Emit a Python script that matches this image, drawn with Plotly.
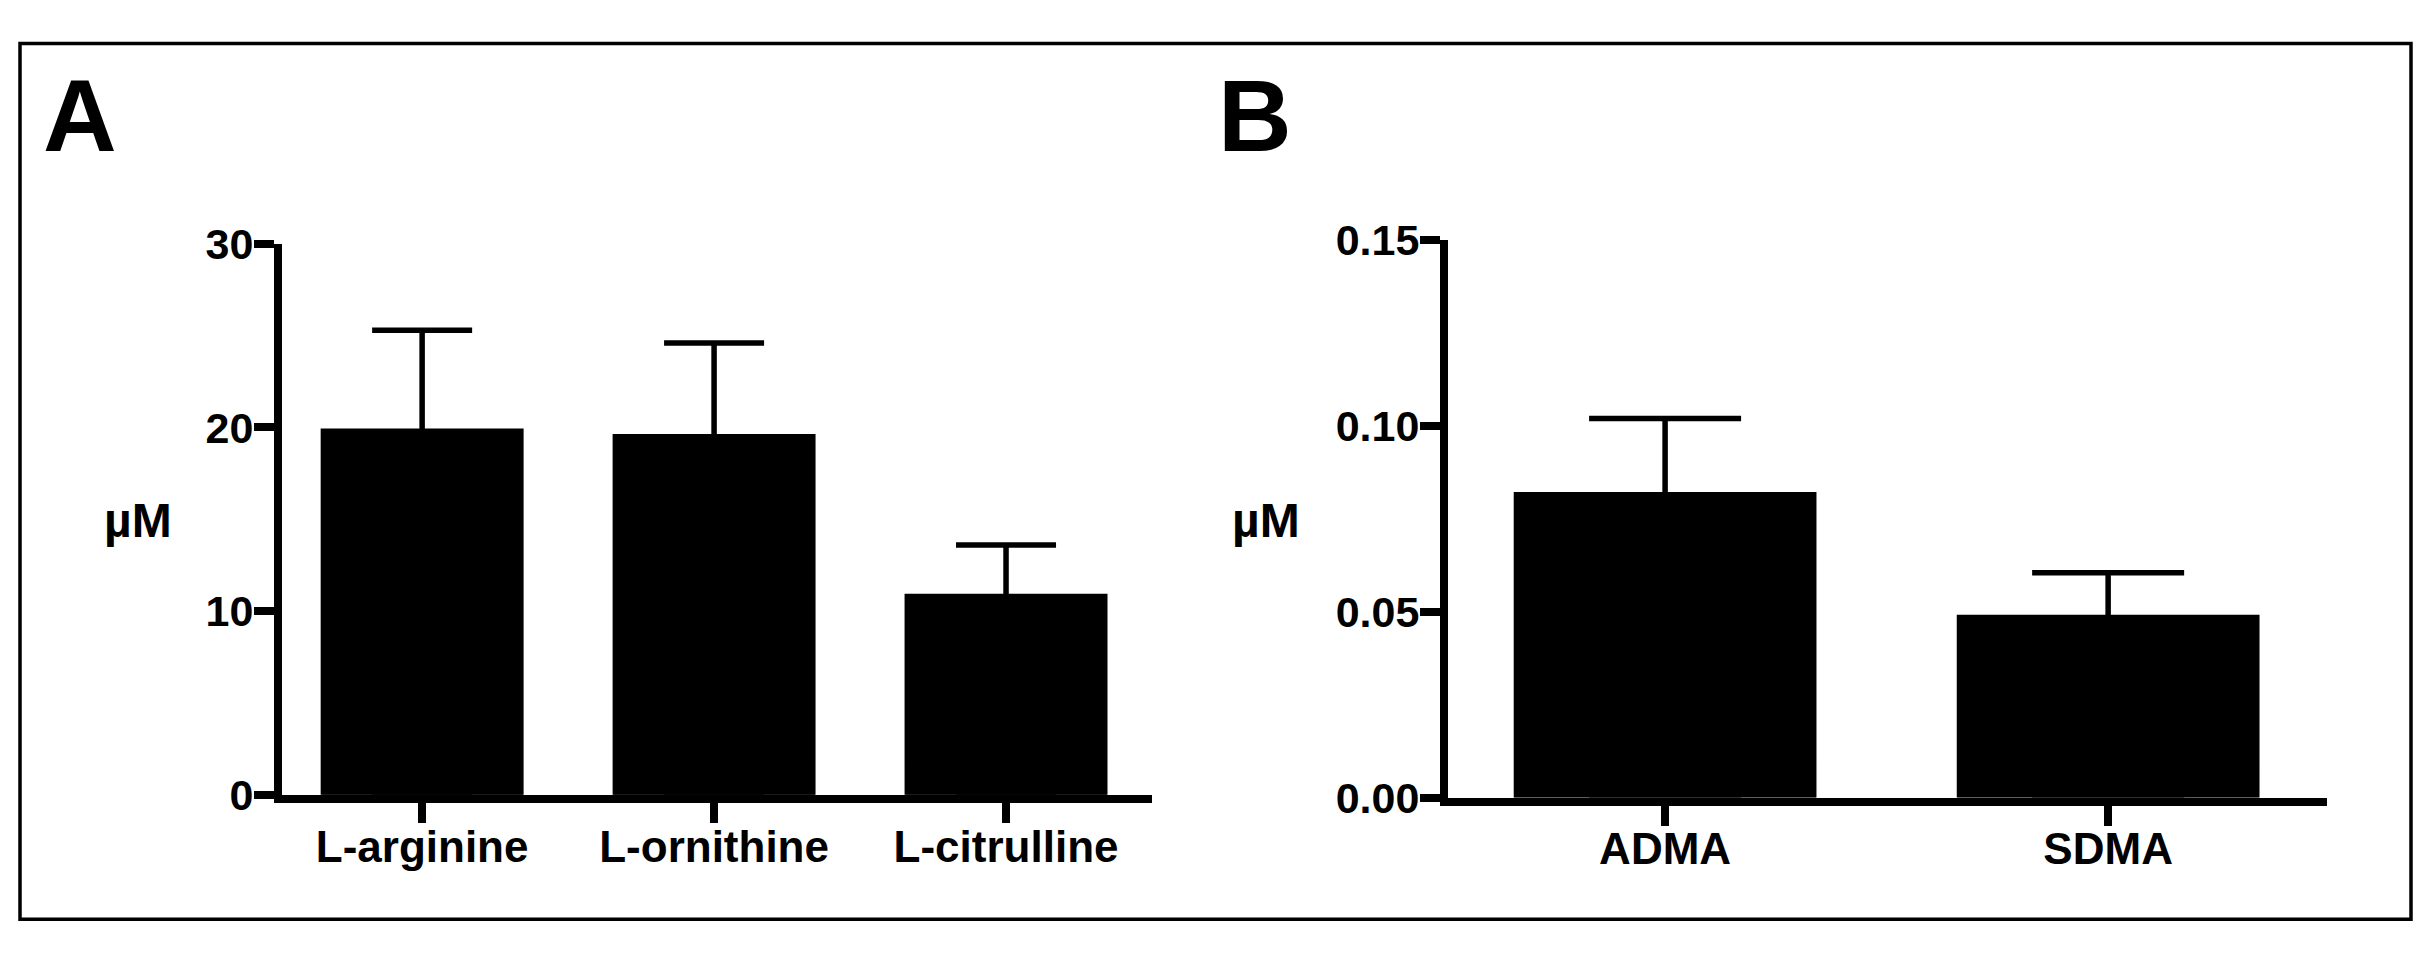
import plotly.graph_objects as go

# panel A - amino acids
amino_names = ["L-arginine", "L-ornithine", "L-citrulline"]
amino_mean = [19.9, 19.6, 10.9]
amino_err = [5.4, 5.0, 2.7]
amino_ticks = [0, 10, 20, 30]

# panel B - methylarginines
methyl_names = ["ADMA", "SDMA"]
methyl_mean = [0.082, 0.049]
methyl_err = [0.020, 0.0115]
methyl_ticks = [0, 0.05, 0.10, 0.15]

# the page body keeps its default 8px margin, so the figure is drawn
# 8px smaller and every position below is given in window pixels
OFF = 8
W, H = 2433 - OFF, 965 - OFF
FONT = "Liberation Sans, Arial, Helvetica, sans-serif"


def px_x(p):
    return (p - OFF) / W


def px_y(p):
    return 1 - (p - OFF) / H


fig = go.Figure()

# lower half of the error bar runs down inside the black bar, so only
# the upper whisker shows (lower cap sits hidden at the baseline)
fig.add_trace(go.Bar(
    x=amino_names, y=amino_mean, width=0.69,
    marker=dict(color="black", line=dict(width=1.5, color="black")),
    error_y=dict(type="data", symmetric=False, array=amino_err,
                 arrayminus=amino_mean,
                 color="black", thickness=5.5, width=50),
    xaxis="x", yaxis="y",
))

fig.add_trace(go.Bar(
    x=methyl_names, y=methyl_mean, width=0.68,
    marker=dict(color="black", line=dict(width=1.5, color="black")),
    error_y=dict(type="data", symmetric=False, array=methyl_err,
                 arrayminus=methyl_mean,
                 color="black", thickness=5.5, width=76),
    xaxis="x2", yaxis="y2",
))

axis_style = dict(
    showline=True, linewidth=8, linecolor="black",
    ticks="outside", ticklen=20, tickwidth=8, tickcolor="black",
    showgrid=False, zeroline=False, fixedrange=True,
)

fig.update_layout(
    width=W, height=H,
    margin=dict(l=0, r=0, t=0, b=0),
    paper_bgcolor="white", plot_bgcolor="white",
    showlegend=False,
    font=dict(family=FONT, color="black", weight="bold"),
    xaxis=dict(axis_style, type="category", range=[-0.48, 2.5],
               domain=[px_x(282), px_x(1152)], anchor="y",
               ticklabelstandoff=-14,
               tickfont=dict(size=44, family=FONT, weight="bold")),
    yaxis=dict(axis_style, range=[0, 30], tickvals=amino_ticks,
               domain=[px_y(811), px_y(231)], anchor="x",
               ticklabelstandoff=-8,
               tickfont=dict(size=43, family=FONT, weight="bold")),
    xaxis2=dict(axis_style, type="category", range=[-0.49, 1.494],
                domain=[px_x(1448), px_x(2327)], anchor="y2",
                ticklabelstandoff=-14,
                tickfont=dict(size=44, family=FONT, weight="bold")),
    yaxis2=dict(axis_style, range=[0, 0.15], tickvals=methyl_ticks,
                tickformat=".2f",
                domain=[px_y(814), px_y(227)], anchor="x2",
                ticklabelstandoff=-8,
                tickfont=dict(size=43, family=FONT, weight="bold")),
)

# outer frame
fig.add_shape(type="rect", xref="paper", yref="paper",
              x0=px_x(20), x1=px_x(2411), y0=px_y(942), y1=px_y(20),
              line=dict(color="black", width=3.5))

# panel letters and unit labels
for txt, x, y, size in [("A", 80, 96, 102), ("B", 1255, 96, 102),
                        ("µM", 138, 522, 48), ("µM", 1266, 522, 48)]:
    fig.add_annotation(text=txt, x=px_x(x), y=px_y(y), xref="paper", yref="paper",
                       showarrow=False, xanchor="center", yanchor="middle",
                       font=dict(size=size, family=FONT, color="black", weight="bold"))

fig.write_html("out.html")
